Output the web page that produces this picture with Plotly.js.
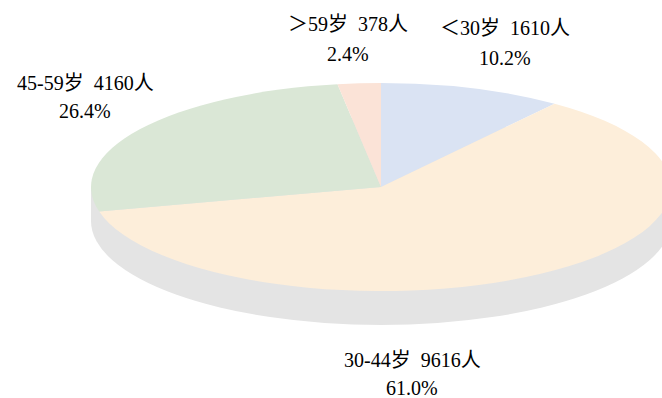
<!DOCTYPE html>
<html>
<head>
<meta charset="utf-8">
<script src="https://cdn.plot.ly/plotly-3.0.1.min.js"></script>
<style>
html,body{margin:0;padding:0;background:#fff;}
#chart{width:662px;height:398px;}
</style>
</head>
<body>
<div id="chart"></div>
<script>
// ---- data ----
var categories = ['＜30岁', '30-44岁', '45-59岁', '＞59岁'];
var counts = [1610, 9616, 4160, 378];
var colors = ['#DAE3F3', '#FDEEDA', '#DAE7D6', '#FBE3D7'];

// ---- layout constants (pixels) ----
var W = 662, H = 398;
var CX = 381, CY = 187, RX = 290, RY = 104, DEPTH = 34;
var labelPos = [ // [x, y line1, y line2] pixel centres for each category
  [505, 28, 58],
  [412, 360, 388],
  [85, 83, 111],
  [348, 24, 54]
];

var total = counts.reduce(function(a, b){ return a + b; }, 0);
var font = {family: 'Liberation Serif, Noto Sans CJK SC', size: 20, color: '#000'};

function px(x){ return x / W; }
function py(y){ return 1 - y / H; }

var annotations = [];
categories.forEach(function(c, i){
  var pct = (counts[i] / total * 100).toFixed(1) + '%';
  var p = labelPos[i];
  annotations.push({xref:'paper', yref:'paper', x:px(p[0]), y:py(p[1]), xanchor:'center', yanchor:'middle',
    text: c + '\u00a0\u00a0' + counts[i] + '人', showarrow:false, font:font});
  annotations.push({xref:'paper', yref:'paper', x:px(p[0]), y:py(p[2]), xanchor:'center', yanchor:'middle',
    text: pct, showarrow:false, font:font});
});

var trace = {
  type: 'pie',
  labels: categories,
  values: counts,
  sort: false,
  direction: 'clockwise',
  rotation: 0,
  textinfo: 'none',
  hoverinfo: 'none',
  marker: {colors: colors, line: {width: 0}},
  showlegend: false,
  domain: {x: [0, 1], y: [0, 1]}
};

var layout = {
  width: W, height: H,
  margin: {l:0, r:0, t:0, b:0},
  paper_bgcolor: '#fff',
  plot_bgcolor: '#fff',
  showlegend: false,
  font: font,
  annotations: annotations,
  shapes: [
    {type:'circle', xref:'paper', yref:'paper', layer:'below',
     x0:px(CX-RX), x1:px(CX+RX), y0:py(CY+DEPTH+RY), y1:py(CY+DEPTH-RY),
     fillcolor:'#E4E4E4', line:{width:0}},
    {type:'rect', xref:'paper', yref:'paper', layer:'below',
     x0:px(CX-RX), x1:px(CX+RX), y0:py(CY+DEPTH), y1:py(CY),
     fillcolor:'#E4E4E4', line:{width:0}}
  ]
};

Plotly.newPlot('chart', [trace], layout, {staticPlot:true, displayModeBar:false}).then(function(gd){
  var g = gd.querySelector('.pielayer');
  if (!g) return;
  var bb = g.getBBox();
  var cx = bb.x + bb.width/2, cy = bb.y + bb.height/2, r = bb.width/2;
  g.setAttribute('transform',
    'translate(' + CX + ',' + CY + ') scale(' + (RX/r) + ',' + (RY/r) + ') translate(' + (-cx) + ',' + (-cy) + ')');
});
</script>
</body>
</html>
